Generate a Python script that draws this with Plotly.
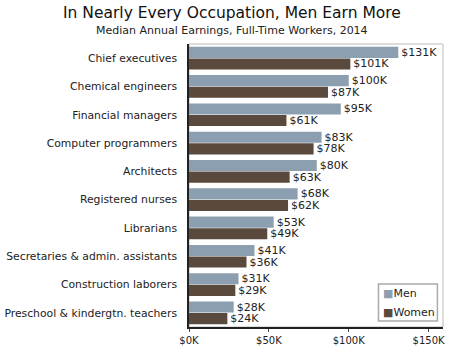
import plotly.graph_objects as go

categories = ["Chief executives", "Chemical engineers", "Financial managers",
              "Computer programmers", "Architects", "Registered nurses",
              "Librarians", "Secretaries & admin. assistants",
              "Construction laborers", "Preschool & kindergtn. teachers"]
men = [131, 100, 95, 83, 80, 68, 53, 41, 31, 28]
women = [101, 87, 61, 78, 63, 62, 49, 36, 29, 24]
tick_vals = [0, 50, 100, 150]
tick_text = ["$0K", "$50K", "$100K", "$150K"]

MEN_C = "#8c9fb1"
WOMEN_C = "#5a4a3d"
FONT = "DejaVu Sans"
fig = go.Figure()
fig.add_trace(go.Bar(y=categories, x=men, name="Men", orientation="h",
                     marker=dict(color=MEN_C, line=dict(width=0)),
                     text=[f"${v}K" for v in men], textposition="outside",
                     constraintext="none",
                     textfont=dict(size=11, color="#222", family=FONT),
                     cliponaxis=False))
fig.add_trace(go.Bar(y=categories, x=women, name="Women", orientation="h",
                     marker=dict(color=WOMEN_C, line=dict(width=0)),
                     text=[f"${v}K" for v in women], textposition="outside",
                     constraintext="none",
                     textfont=dict(size=11, color="#222", family=FONT),
                     cliponaxis=False))

legend_font = dict(size=11, color="#222", family=FONT)
fig.update_layout(
    width=464, height=361,
    margin=dict(l=189, r=21, t=44, b=34),
    paper_bgcolor="white", plot_bgcolor="white",
    barmode="group", bargap=0.18, bargroupgap=0.04,
    showlegend=False,
    font=dict(family=FONT, size=11, color="#222"),
    annotations=[
        dict(text="In Nearly Every Occupation, Men Earn More", xref="paper", yref="paper",
             x=0.169, y=1, xanchor="center", yanchor="bottom", yshift=20, showarrow=False,
             font=dict(size=15.5, color="#111", family=FONT)),
        dict(text="Median Annual Earnings, Full-Time Workers, 2014", xref="paper", yref="paper",
             x=0.169, y=1, xanchor="center", yanchor="bottom", yshift=5, showarrow=False,
             font=dict(size=11, color="#222", family=FONT)),
        dict(text=f"<span style='color:{MEN_C}'>■</span>Men",
             xref="paper", yref="paper", x=0.756, y=0.117, xanchor="left", yanchor="middle",
             showarrow=False, font=legend_font),
        dict(text=f"<span style='color:{WOMEN_C}'>■</span>Women",
             xref="paper", yref="paper", x=0.756, y=0.053, xanchor="left", yanchor="middle",
             showarrow=False, font=legend_font),
    ],
    xaxis=dict(range=[0, 159], tickvals=tick_vals, ticktext=tick_text,
               showgrid=False, zeroline=False, showline=True, linecolor="#222",
               linewidth=1.5, ticks="outside", ticklen=3, tickcolor="#444",
               tickfont=dict(size=10), automargin=False),
    yaxis=dict(autorange="reversed", showgrid=False, showline=True,
               linecolor="#222", linewidth=1.5, ticks="", ticklen=0,
               ticklabelstandoff=8, tickfont=dict(size=10.8), automargin=False),
    shapes=[dict(type="rect", xref="paper", yref="paper", x0=0, x1=1, y0=0, y1=1,
                 line=dict(color="#bbb", width=1), layer="below"),
            dict(type="rect", xref="paper", yref="paper", x0=0.746, x1=0.978,
                 y0=0.021, y1=0.152, line=dict(color="#aaa", width=1.5),
                 fillcolor="white", layer="below")],
)
fig.write_html("out.html", config={"displayModeBar": False},
               post_script="document.body.style.margin='0';document.body.style.overflow='hidden';")
